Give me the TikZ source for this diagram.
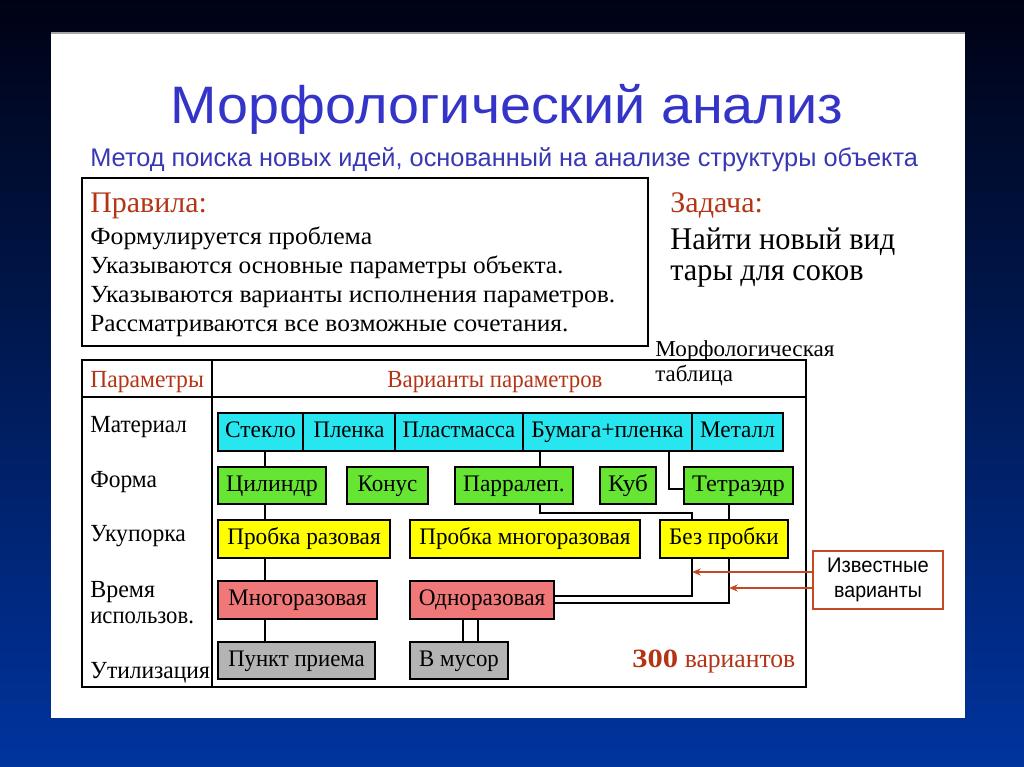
\documentclass[tikz,border=0pt]{standalone}
\usepackage{fontspec}
\setmainfont{Liberation Serif}
\newfontfamily\arialf{Liberation Sans}
\usetikzlibrary{arrows.meta}
\definecolor{bgtop}{RGB}{0,2,20}
\definecolor{bgmid}{RGB}{0,34,125}
\definecolor{bgbot}{RGB}{0,52,158}
\definecolor{titleblue}{RGB}{52,52,200}
\definecolor{subblue}{RGB}{56,56,180}
\definecolor{redtxt}{RGB}{180,52,22}
\definecolor{arrred}{RGB}{196,72,36}
\definecolor{cy}{RGB}{40,230,240}
\definecolor{gr}{RGB}{102,230,51}
\definecolor{ye}{RGB}{255,255,0}
\definecolor{sa}{RGB}{240,120,120}
\definecolor{gy}{RGB}{180,180,180}
\newlength\pxu
\setlength\pxu{0.5669pt}
\newcommand{\wpx}[2]{\resizebox{#1\pxu}{\height}{#2}}
\newcommand{\fsz}[1]{\fontsize{#1}{#1}\selectfont}
\newcommand{\mcell}[8]{\node[cellbox, fill=#6, minimum width={(#4-#2)*0.02cm}, minimum height={(#5-#3)*0.02cm}] (#1) at ({(#2+#4)/2},{(#3+#5)/2}) {\wpx{#7}{#8}};}
\tikzset{
  txt/.style={inner sep=0pt, anchor=base west, font=\fsz{14pt}},
  cellbox/.style={draw=black, line width=1pt, inner sep=0pt, text height=9.5pt, text depth=3pt, font=\fsz{13.5pt}},
  frame/.style={draw=black, line width=1.2pt},
  conn/.style={draw=black, line width=0.9pt},
  known/.style={draw=arrred, line width=1pt, -{Stealth[length=5pt,width=4pt]}}
}
\begin{document}
\begin{tikzpicture}[x=0.02cm,y=-0.02cm]
\useasboundingbox (0,0) rectangle (1024,767);
\shade[top color=bgtop, middle color=bgmid, bottom color=bgbot] (0,0) rectangle (1024,767);
\fill[white] (51,33) rectangle (965,718);
\draw[gray!70, line width=1pt] (51,33) -- (965,33);

% title
\node[inner sep=0pt, anchor=base, text=titleblue, font=\arialf\fsz{30pt}] (title) at (507,124) {\wpx{675}{Морфологический анализ}};
\node[inner sep=0pt, anchor=base west, text=subblue, font=\arialf\fsz{14.5pt}] (sub) at (90,166) {\wpx{831}{Метод поиска новых идей, основанный на анализе структуры объекта}};

% rules
\draw[frame] (82,178) rectangle (648,346);
\node[txt, text=redtxt, font=\fsz{17pt}] (rules) at (90,212) {\wpx{117}{Правила:}};
\node[txt] (r1) at (90,244) {\wpx{283}{Формулируется проблема}};
\node[txt] (r2) at (90,273) {\wpx{475}{Указываются основные параметры объекта.}};
\node[txt] (r3) at (90,302) {\wpx{527}{Указываются варианты исполнения параметров.}};
\node[txt] (r4) at (90,331) {\wpx{480}{Рассматриваются все возможные сочетания.}};

% task
\node[txt, text=redtxt, font=\fsz{17pt}] (task) at (670,212) {\wpx{93}{Задача:}};
\node[txt, font=\fsz{18pt}] (task1) at (670,249) {\wpx{226}{Найти новый вид}};
\node[txt, font=\fsz{18pt}] (task2) at (670,280) {\wpx{194}{тары для соков}};

\node[txt, font=\fsz{13pt}] (mt1) at (655,356) {\wpx{180}{Морфологическая}};
\node[txt, font=\fsz{13pt}] (mt2) at (655,381) {\wpx{78}{таблица}};

% table frame
\draw[frame] (82,360) rectangle (806,687);
\draw[frame] (82,397) -- (806,397);
\draw[frame] (212,360) -- (212,687);
\node[txt, text=redtxt] (hp) at (90,387) {\wpx{114}{Параметры}};
\node[txt, text=redtxt] (hv) at (387,387) {\wpx{216}{Варианты параметров}};

\node[txt] (l1) at (90,432) {\wpx{97}{Материал}};
\node[txt] (l2) at (90,487) {\wpx{67}{Форма}};
\node[txt] (l3) at (90,541) {\wpx{96}{Укупорка}};
\node[txt] (l4) at (90,597) {\wpx{65}{Время}};
\node[txt] (l4b) at (90,623) {\wpx{104}{использов.}};
\node[txt] (l5) at (90,678) {\wpx{120}{Утилизация}};

% cells
\mcell{steklo}{218}{413}{303}{451}{cy}{71}{Стекло}
\mcell{plenka}{303}{413}{395}{451}{cy}{71}{Пленка}
\mcell{plast}{395}{413}{523}{451}{cy}{113}{Пластмасса}
\mcell{bum}{523}{413}{692}{451}{cy}{153}{Бумага+пленка}
\mcell{metall}{692}{413}{783}{451}{cy}{75}{Металл}

\mcell{cil}{218}{467}{326}{504}{gr}{92}{Цилиндр}
\mcell{konus}{347}{467}{428}{504}{gr}{60}{Конус}
\mcell{parr}{455}{467}{573}{504}{gr}{102}{Парралеп.}
\mcell{kub}{600}{467}{656}{504}{gr}{40}{Куб}
\mcell{tetr}{684}{467}{793}{504}{gr}{93}{Тетраэдр}

\mcell{prob1}{218}{520}{390}{558}{ye}{154}{Пробка разовая}
\mcell{prob2}{410}{520}{640}{558}{ye}{212}{Пробка многоразовая}
\mcell{bez}{660}{520}{788}{558}{ye}{110}{Без пробки}

\mcell{mnog}{218}{581}{377}{619}{sa}{139}{Многоразовая}
\mcell{odno}{410}{581}{554}{619}{sa}{127}{Одноразовая}

\mcell{punkt}{218}{642}{375}{679}{gy}{137}{Пункт приема}
\mcell{musor}{410}{642}{508}{679}{gy}{80}{В мусор}

% helper coordinates
\coordinate (xa) at (265,0);
\coordinate (xb) at (540,0);
\coordinate (xc) at (669,0);
\coordinate (xd) at (692,0);
\coordinate (xe) at (729,0);
\coordinate (xf) at (463,0);
\coordinate (xg) at (478,0);
\coordinate (ya) at (0,513);
\coordinate (yb) at (0,489);
\coordinate (yc) at (0,596);
\coordinate (yd) at (0,603);
\coordinate (ye1) at (0,572);
\coordinate (yf) at (0,588);

% connectors
\draw[conn] (steklo.south -| xa) -- (cil.north -| xa);
\draw[conn] (cil.south -| xa) -- (prob1.north -| xa);
\draw[conn] (prob1.south -| xa) -- (mnog.north -| xa);
\draw[conn] (mnog.south -| xa) -- (punkt.north -| xa);
\draw[conn] (bum.south -| xb) -- (parr.north -| xb);
\draw[conn] (parr.south -| xb) -- (xb |- ya) -- (xd |- ya) -- (bez.north -| xd);
\draw[conn] (bum.south -| xc) -- (xc |- yb) -- (tetr.west |- yb);
\draw[conn] (tetr.south -| xe) -- (bez.north -| xe);
\draw[conn] (bez.south -| xd) -- (xd |- yc) -- (odno.east |- yc);
\draw[conn] (bez.south -| xe) -- (xe |- yd) -- (odno.east |- yd);
\draw[conn] (odno.south -| xf) -- (musor.north -| xf);
\draw[conn] (odno.south -| xg) -- (musor.north -| xg);

% known variants
\node[draw=arrred, line width=1pt, minimum width={130*0.02cm}, minimum height={58*0.02cm}, inner sep=0pt, align=center, font=\arialf\fsz{12pt}] (kv) at (878,580) {\wpx{102}{Известные}\\[2pt]\wpx{88}{варианты}};
\draw[known] (kv.west |- ye1) -- (xd |- ye1);
\draw[known] (kv.west |- yf) -- (xe |- yf);

\node[txt, text=redtxt] (v300) at (632,667) {\fsz{15pt}\textbf{\wpx{46}{300}}\ \wpx{111}{вариантов}};
\end{tikzpicture}
\end{document}
